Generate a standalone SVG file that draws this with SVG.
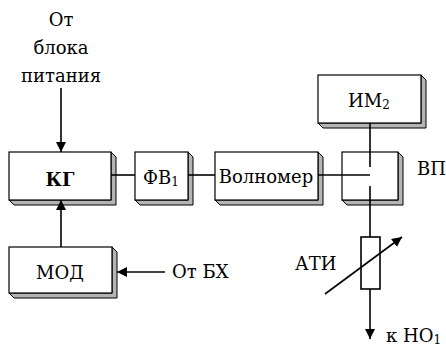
<svg xmlns="http://www.w3.org/2000/svg" width="446" height="348" viewBox="0 0 446 348">
<style>
.front{fill:#fff;stroke:#000;stroke-width:1.2}
.side{fill:#b4b4b4;stroke:#000;stroke-width:1}
.ln{fill:none;stroke:#000;stroke-width:1.6}
.t{font-family:'DejaVu Serif','Liberation Serif',serif;font-size:18px;fill:#000}
.c{text-anchor:middle}
.b{font-weight:bold}
.sub{font-size:12px}
</style>
<defs>
<marker id="ah" viewBox="0 0 10 10" refX="10" refY="5" markerWidth="10" markerHeight="10" markerUnits="userSpaceOnUse" orient="auto">
<path d="M0,0 L10,5 L0,10 Z" fill="#000"/>
</marker>
</defs>
<rect width="446" height="348" fill="#fff"/>

<g id="kg">
<polygon class="side" points="111,152 116,157 116,205 14,205 9,200 111,200"/>
<rect class="front" x="9" y="152" width="102" height="48"/>
<text class="t c b" x="60" y="186">КГ</text>
</g>
<g id="fv1">
<polygon class="side" points="188,152 193,157 193,205 140,205 135,200 188,200"/>
<rect class="front" x="135" y="152" width="53" height="48"/>
<text class="t c" x="161" y="184">ФВ<tspan class="sub" dy="2">1</tspan></text>
</g>
<g id="volnomer">
<polygon class="side" points="318,152 323,157 323,205 220,205 215,200 318,200"/>
<rect class="front" x="215" y="152" width="103" height="48"/>
<text class="t c" x="266" y="183">Волномер</text>
</g>
<g id="vp">
<polygon class="side" points="398,152 403,157 403,205 347,205 342,200 398,200"/>
<rect class="front" x="342" y="152" width="56" height="48"/>
<text class="t" x="417" y="175">ВП</text>
</g>
<g id="im2">
<polygon class="side" points="421,75 426,80 426,128 323,128 318,123 421,123"/>
<rect class="front" x="318" y="75" width="103" height="48"/>
<text class="t c" x="369" y="107">ИМ<tspan class="sub" dy="2">2</tspan></text>
</g>
<g id="mod">
<polygon class="side" points="112,247 117,252 117,298 14,298 9,293 112,293"/>
<rect class="front" x="9" y="247" width="103" height="46"/>
<text class="t c" x="60" y="279">МОД</text>
</g>
<g id="ati">
<rect class="front" x="361" y="237" width="19" height="52" style="stroke-width:1.6"/>
<text class="t" x="295" y="270">АТИ</text>
</g>

<g id="labels">
<text class="t c" x="61" y="26">От</text>
<text class="t c" x="61" y="54">блока</text>
<text class="t c" x="61" y="82">питания</text>
<text class="t" x="172" y="278">От БХ</text>
<text class="t" x="386" y="342">к НО<tspan class="sub" dy="2">1</tspan></text>
</g>

<g id="connectors">
<line class="ln" x1="61" y1="88" x2="61" y2="152" marker-end="url(#ah)"/>
<line class="ln" x1="61" y1="247" x2="61" y2="200" marker-end="url(#ah)"/>
<line class="ln" x1="165" y1="272" x2="117" y2="272" marker-end="url(#ah)"/>
<line class="ln" x1="111" y1="175" x2="135" y2="175"/>
<line class="ln" x1="188" y1="175" x2="215" y2="175"/>
<line class="ln" x1="318" y1="175" x2="370" y2="175"/>
<line class="ln" x1="370" y1="123" x2="370" y2="167"/>
<line class="ln" x1="370" y1="186" x2="370" y2="237"/>
<line class="ln" x1="370" y1="289" x2="370" y2="339" marker-end="url(#ah)"/>
<line class="ln" x1="325" y1="294" x2="402" y2="237" marker-end="url(#ah)"/>
</g>
</svg>
